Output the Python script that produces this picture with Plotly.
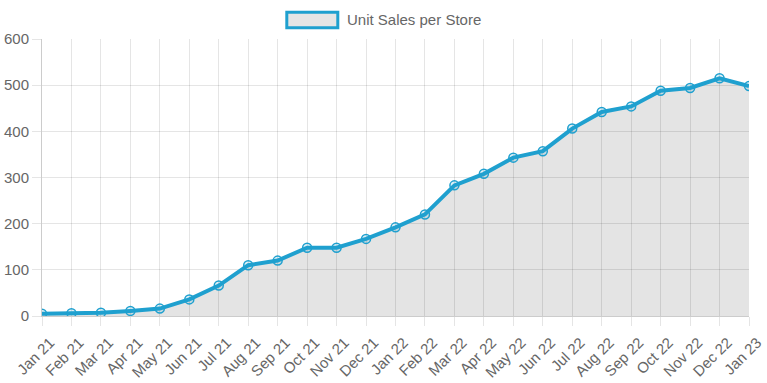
import plotly.graph_objects as go

months = ["Jan 21", "Feb 21", "Mar 21", "Apr 21", "May 21", "Jun 21", "Jul 21", "Aug 21",
          "Sep 21", "Oct 21", "Nov 21", "Dec 21", "Jan 22", "Feb 22", "Mar 22", "Apr 22",
          "May 22", "Jun 22", "Jul 22", "Aug 22", "Sep 22", "Oct 22", "Nov 22", "Dec 22", "Jan 23"]
unit_sales = [5, 6, 7, 11, 16, 36, 66, 110, 120, 148, 148, 167, 192, 220, 283, 308,
              343, 357, 406, 442, 454, 488, 494, 515, 498]
series_name = "Unit Sales per Store"
y_ticks = [0, 100, 200, 300, 400, 500, 600]

LINE = "#1fa0cf"
FONT = dict(family="Liberation Sans, Arial, sans-serif", size=15, color="#666666")

fig = go.Figure()
fig.add_trace(go.Scatter(
    x=months, y=unit_sales, name=series_name, mode="lines+markers",
    line=dict(color=LINE, width=4),
    fill="tozeroy", fillcolor="rgba(0,0,0,0.105)",
    marker=dict(size=9, color="rgba(31,160,207,0.15)", line=dict(color=LINE, width=1.5)),
    showlegend=False,
))

W, H = 767, 383
L, R, T, B = 42, 18, 39, 67
pw, ph = W - L - R, H - T - B

def px(x):
    return (x - L) / pw

def py(y):
    return 1 + (T - y) / ph

fig.add_shape(type="rect", xref="paper", yref="paper",
              x0=px(286.8), x1=px(337.8), y0=py(27.8), y1=py(12.2),
              line=dict(color=LINE, width=3), fillcolor="#e5e5e5")
fig.add_annotation(xref="paper", yref="paper", x=px(345), y=py(19.5),
                   xanchor="left", yanchor="middle", text=series_name,
                   showarrow=False, font=FONT)

fig.update_layout(
    width=W, height=H,
    margin=dict(l=L, r=R, t=T, b=B),
    paper_bgcolor="white", plot_bgcolor="white",
    font=FONT,
    xaxis=dict(type="category", range=[0, len(months) - 1], tickangle=-45,
               automargin=False, ticklabelstandoff=2, ticklabelshift=8,
               showgrid=True, gridcolor="rgba(0,0,0,0.1)", gridwidth=1,
               ticks="outside", ticklen=9, tickcolor="rgba(0,0,0,0.1)",
               showline=True, linecolor="rgba(0,0,0,0.2)", linewidth=1,
               zeroline=False, tickfont=FONT),
    yaxis=dict(range=[0, 600], tickvals=y_ticks, automargin=False,
               showgrid=True, gridcolor="rgba(0,0,0,0.1)", gridwidth=1,
               ticks="outside", ticklen=9, tickcolor="rgba(0,0,0,0.1)",
               showline=True, linecolor="rgba(0,0,0,0.2)", linewidth=1,
               zeroline=False, tickfont=FONT),
)

fig.write_html("out.html", config={"displayModeBar": False},
               post_script="document.body.style.margin='0';document.body.style.overflow='hidden';")
